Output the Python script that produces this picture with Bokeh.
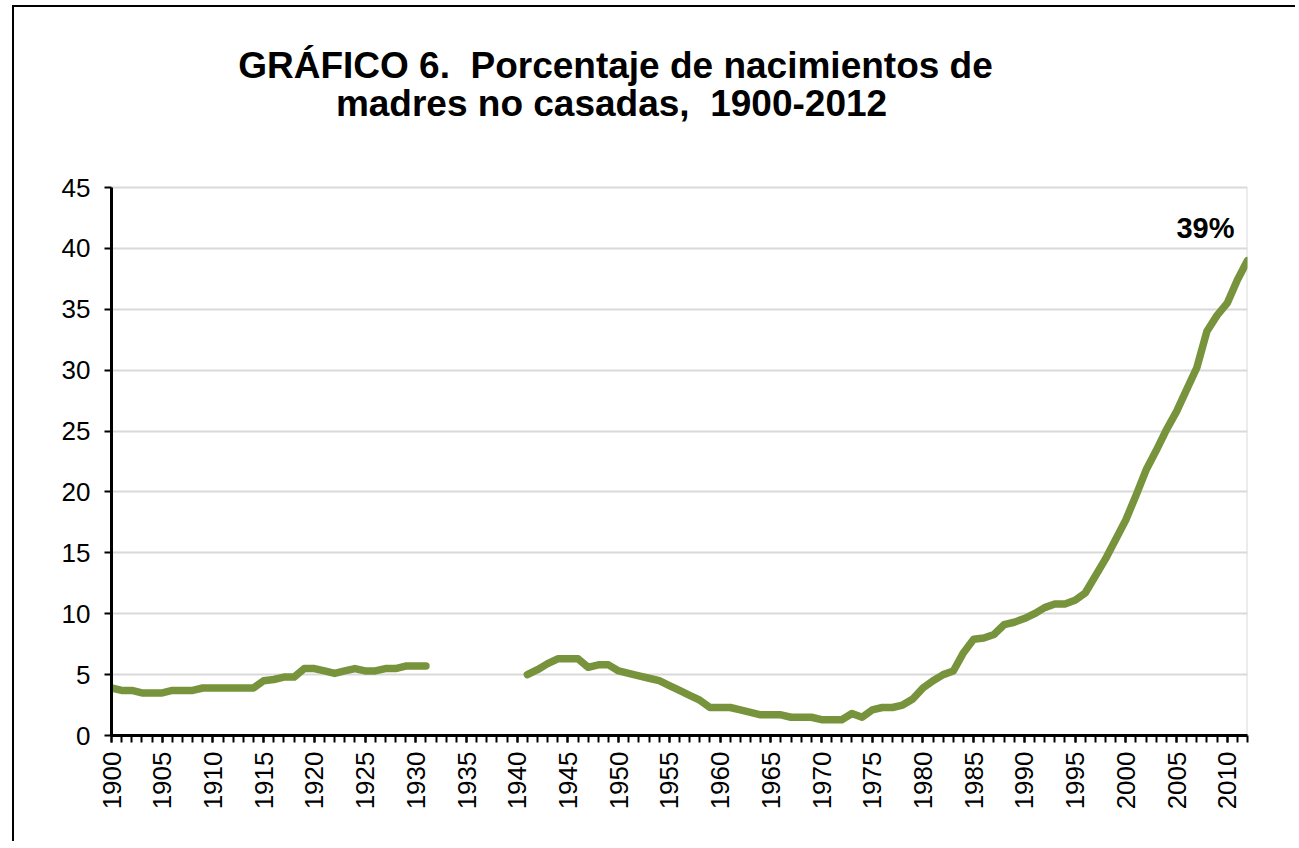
import math
from bokeh.plotting import figure
from bokeh.models import Range1d, FixedTicker, Label, ColumnDataSource
from bokeh.embed import file_html
from bokeh.resources import INLINE

# ---- data ----
years = list(range(1900, 2013))
early_values = [3.9, 3.7, 3.7, 3.5, 3.5, 3.5, 3.7, 3.7, 3.7, 3.9,
                3.9, 3.9, 3.9, 3.9, 3.9, 4.5, 4.6, 4.8, 4.8, 5.5,
                5.5, 5.3, 5.1, 5.3, 5.5, 5.3, 5.3, 5.5, 5.5, 5.7,
                5.7, 5.7]                       # 1900-1931
missing_years = list(range(1932, 1941))        # no data 1932-1940
late_values = [5.0, 5.4, 5.9, 6.3, 6.3, 6.3, 5.6, 5.8, 5.8, 5.3,
               5.1, 4.9, 4.7, 4.5, 4.1, 3.7, 3.3, 2.9, 2.3, 2.3,
               2.3, 2.1, 1.9, 1.7, 1.7, 1.7, 1.5, 1.5, 1.5, 1.3,
               1.3, 1.3, 1.8, 1.5, 2.1, 2.3, 2.3, 2.5, 3.0, 3.9,
               4.5, 5.0, 5.3, 6.8, 7.9, 8.0, 8.3, 9.1, 9.3, 9.6,
               10.0, 10.5, 10.8, 10.8, 11.1, 11.7, 13.1, 14.5, 16.1, 17.7,
               19.7, 21.8, 23.4, 25.1, 26.6, 28.4, 30.2, 33.2, 34.5, 35.5,
               37.4, 39.0]                      # 1941-2012
values = early_values + [float("nan")] * len(missing_years) + late_values

x_tick_values = list(range(1900, 2011, 5))
x_tick_labels = [str(v) for v in x_tick_values]
y_tick_values = list(range(0, 46, 5))
y_tick_labels = [str(v) for v in y_tick_values]
y_axis_max = 45

title_line1 = "GRÁFICO 6.\u00a0 Porcentaje de nacimientos de"
title_line2 = "madres no casadas,\u00a0 1900-2012"
end_label = "39%"

FONT = "Liberation Sans"
GREEN = "#77933C"
GRID = "#d9d9d9"

# layout (pixels): figure content starts at y=7; frame spans 17..735,
# the value axis (0..45) occupies 187..735, the space above holds the title
FIG_W, FIG_H = 1283, 836
B_LEFT, B_TOP, B_RIGHT, B_BOTTOM = 97, 10, 50, 108
frame_h = FIG_H - B_TOP - B_BOTTOM
axis_h = 548
y_top = y_axis_max * frame_h / axis_h

p = figure(width=FIG_W, height=FIG_H, output_backend="svg", toolbar_location=None,
           x_range=Range1d(1900, 2012), y_range=Range1d(0, y_top),
           min_border_left=B_LEFT, min_border_top=B_TOP,
           min_border_right=B_RIGHT, min_border_bottom=B_BOTTOM)
p.styles = {"margin-left": "12px", "margin-top": "5px",
            "border-left": "2px solid black", "border-top": "2px solid black"}
p.background_fill_color = "white"
p.border_fill_color = "white"
p.outline_line_color = None

# right edge of the plot area (light grey)
p.line([years[-1], years[-1]], [0, y_axis_max], line_color=GRID, line_width=2)

src = ColumnDataSource(dict(x=years, y=values))
p.line("x", "y", source=src, line_color=GREEN, line_width=7.5,
       line_join="round", line_cap="round")

# x axis
p.xaxis.ticker = FixedTicker(ticks=x_tick_values, minor_ticks=years)
p.xaxis.major_label_overrides = dict(zip(x_tick_values, x_tick_labels))
p.xaxis.major_label_orientation = math.pi / 2
p.xaxis.major_label_text_font = FONT
p.xaxis.major_label_text_font_size = "26px"
p.xaxis.major_label_text_color = "black"
p.xaxis.major_label_standoff = 9
p.xaxis.axis_line_color = "black"
p.xaxis.axis_line_width = 3
p.xaxis.major_tick_line_color = "black"
p.xaxis.minor_tick_line_color = "black"
p.xaxis.major_tick_line_width = 2
p.xaxis.minor_tick_line_width = 2
p.xaxis.major_tick_in = 0
p.xaxis.major_tick_out = 7
p.xaxis.minor_tick_in = 0
p.xaxis.minor_tick_out = 7
p.xgrid.grid_line_color = None

# y axis
p.yaxis.ticker = FixedTicker(ticks=y_tick_values)
p.yaxis.bounds = (0, y_axis_max)
p.yaxis.major_label_overrides = dict(zip(y_tick_values, y_tick_labels))
p.yaxis.major_label_text_font = FONT
p.yaxis.major_label_text_font_size = "26px"
p.yaxis.major_label_text_color = "black"
p.yaxis.major_label_standoff = 14
p.yaxis.axis_line_color = "black"
p.yaxis.axis_line_width = 3
p.yaxis.major_tick_line_color = "black"
p.yaxis.major_tick_line_width = 2
p.yaxis.major_tick_in = 0
p.yaxis.major_tick_out = 7
p.yaxis.minor_tick_line_color = None
p.ygrid.grid_line_color = GRID
p.ygrid.grid_line_width = 2

# end label
p.add_layout(Label(x=years[-1], y=late_values[-1], text=end_label,
                   text_align="right", text_baseline="alphabetic",
                   x_offset=-13, y_offset=33, text_font=FONT,
                   text_font_style="bold", text_font_size="29px",
                   text_color="black"))

# title (two centred lines), positioned in screen pixels relative to the frame
for txt, sx, sy in ((title_line1, 504, 670), (title_line2, 500, 632)):
    p.add_layout(Label(x=sx, y=sy, x_units="screen", y_units="screen",
                       text=txt, text_align="center", text_baseline="alphabetic",
                       text_font=FONT, text_font_style="bold",
                       text_font_size="37px", text_color="black"))

open("out.html", "w").write(file_html(p, INLINE))
